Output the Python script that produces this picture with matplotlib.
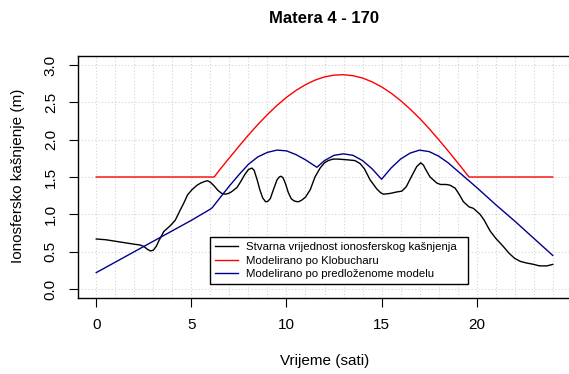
import numpy as np
import matplotlib
matplotlib.use("Agg")
import matplotlib.pyplot as plt

plt.rcParams["font.family"] = ["Liberation Sans", "DejaVu Sans"]

# -- data ---------------------------------------------------------
t_obs = [0, 0.5, 1.0, 1.5, 2.0, 2.3, 2.5, 2.7, 2.85, 3.0, 3.15, 3.3, 3.55,
         3.9, 4.15, 4.4, 4.6, 4.8, 5.03, 5.3, 5.5, 5.7, 5.85, 6.0, 6.2, 6.4,
         6.6, 6.78, 6.95, 7.1, 7.4, 7.6, 7.8, 8.0, 8.18, 8.3, 8.45, 8.6,
         8.75, 8.9, 9.0, 9.15, 9.3, 9.5, 9.62, 9.72, 9.82, 9.95, 10.1, 10.25,
         10.4, 10.55, 10.65, 10.8, 11.0, 11.25, 11.5, 11.77, 12.0, 12.2,
         12.45, 12.7, 13.2, 13.6, 13.87, 14.1, 14.4, 14.75, 14.95, 15.1,
         15.45, 15.8, 16.06, 16.3, 16.6, 16.85, 17.06, 17.2, 17.3, 17.55,
         17.9, 18.1, 18.4, 18.6, 18.87, 19.1, 19.3, 19.6, 19.83, 20.18,
         20.4, 20.7, 21.0, 21.4, 21.7, 22.0, 22.3, 22.6, 23.0, 23.3, 23.7,
         24.0]
v_obs = [0.67, 0.66, 0.64, 0.62, 0.60, 0.59, 0.57, 0.53, 0.51, 0.52, 0.57,
         0.65, 0.77, 0.85, 0.92, 1.05, 1.15, 1.26, 1.33, 1.39, 1.42, 1.44,
         1.45, 1.43, 1.38, 1.32, 1.28, 1.27, 1.28, 1.30, 1.36, 1.44, 1.53,
         1.60, 1.62, 1.59, 1.47, 1.33, 1.22, 1.17, 1.17, 1.21, 1.32, 1.46,
         1.50, 1.51, 1.49, 1.41, 1.29, 1.21, 1.18, 1.17, 1.17, 1.19, 1.23,
         1.33, 1.50, 1.62, 1.69, 1.72, 1.74, 1.74, 1.73, 1.72, 1.68, 1.61,
         1.46, 1.34, 1.29, 1.27, 1.28, 1.30, 1.31, 1.37, 1.52, 1.64, 1.69,
         1.66, 1.61, 1.50, 1.42, 1.40, 1.40, 1.39, 1.35, 1.26, 1.17, 1.10,
         1.08, 1.00, 0.92, 0.78, 0.68, 0.57, 0.48, 0.41, 0.37, 0.35, 0.33,
         0.31, 0.31, 0.33]

t_klob = [0, 1, 2, 3, 4, 5, 6, 6.2, 6.5, 7, 7.5, 8, 8.5, 9, 9.5, 10, 10.5,
          11, 11.5, 12, 12.5, 13, 13.5, 14, 14.5, 15, 15.5, 16, 16.5, 17,
          17.5, 18, 18.5, 19, 19.5, 19.6, 20, 21, 22, 23, 24]
v_klob = [1.5, 1.5, 1.5, 1.5, 1.5, 1.5, 1.5, 1.5, 1.60, 1.756, 1.911, 2.062,
          2.204, 2.336, 2.458, 2.566, 2.659, 2.736, 2.797, 2.840, 2.864,
          2.870, 2.856, 2.825, 2.774, 2.707, 2.623, 2.523, 2.410, 2.285,
          2.148, 2.001, 1.849, 1.692, 1.532, 1.5, 1.5, 1.5, 1.5, 1.5, 1.5]

t_mod = [0, 1, 2, 3, 4, 5, 6, 6.1, 6.5, 7, 7.5, 8, 8.5, 9, 9.5, 10, 10.5,
         11, 11.6, 12, 12.5, 13, 13.5, 14, 14.5, 15, 15.5, 16, 16.5, 17,
         17.5, 18, 18.5, 19, 19.5, 20, 21, 22, 23, 24]
v_mod = [0.22, 0.36, 0.50, 0.64, 0.78, 0.92, 1.07, 1.09, 1.22, 1.38, 1.53,
         1.67, 1.77, 1.83, 1.86, 1.85, 1.80, 1.73, 1.63, 1.72, 1.79, 1.81,
         1.79, 1.72, 1.61, 1.47, 1.62, 1.74, 1.82, 1.86, 1.84, 1.78, 1.69,
         1.58, 1.47, 1.36, 1.13, 0.91, 0.68, 0.45]

labels = ["Stvarna vrijednost ionosferskog kašnjenja",
          "Modelirano po Klobucharu",
          "Modelirano po predloženome modelu"]

# -- plot ----------------------------------------------------------
W, H = 569, 374
fig = plt.figure(figsize=(W / 100, H / 100), dpi=100)
ax = fig.add_axes([78 / W, 76 / H, 493 / W, 242 / H])

ax.set_xlim(-0.96, 24.96)
ax.set_ylim(-0.12, 3.12)

# grid like R's grid(): light grey dotted
for x in range(0, 25):
    ax.axvline(x, color="#d3d3d3", linestyle=(0, (1, 2)), linewidth=0.8, zorder=0)
for y in np.arange(0, 3.01, 0.5):
    ax.axhline(y, color="#d3d3d3", linestyle=(0, (1, 2)), linewidth=0.8, zorder=0)

ax.plot(t_obs, v_obs, color="black", linewidth=1.0, label=labels[0])
ax.plot(t_klob, v_klob, color="red", linewidth=1.0, label=labels[1])
ax.plot(t_mod, v_mod, color="#00008B", linewidth=1.0, label=labels[2])

ax.set_xticks([0, 5, 10, 15, 20])
ax.set_yticks(np.arange(0, 3.01, 0.5))
ax.set_yticklabels([f"{v:.1f}" for v in np.arange(0, 3.01, 0.5)],
                   rotation=90, va="center")
ax.tick_params(direction="out", length=6.5, width=0.8, labelsize=11,
               colors="black", pad=8)
for s in ax.spines.values():
    s.set_linewidth(1.0)

ax.text(0.499, 1.157, "Matera 4 - 170", transform=ax.transAxes,
        ha="center", va="center", fontsize=12, fontweight="bold")
ax.text(0.5, -0.26, "Vrijeme (sati)", transform=ax.transAxes,
        ha="center", va="center", fontsize=11)
ax.text(-0.122, 0.504, "Ionosfersko kašnjenje (m)", transform=ax.transAxes,
        ha="center", va="center", rotation=90, fontsize=11)

leg = ax.legend(loc="upper left",
                bbox_to_anchor=(210 / W, 1 - 291 / H, 258 / W, 54 / H),
                bbox_transform=fig.transFigure, mode="expand",
                fontsize=8.2, fancybox=False, framealpha=1,
                edgecolor="black", handlelength=2.0, handletextpad=0.7,
                labelspacing=0.3, borderpad=0.45, borderaxespad=0)
leg.get_frame().set_linewidth(1.0)

fig.savefig("out.png", dpi=100)
